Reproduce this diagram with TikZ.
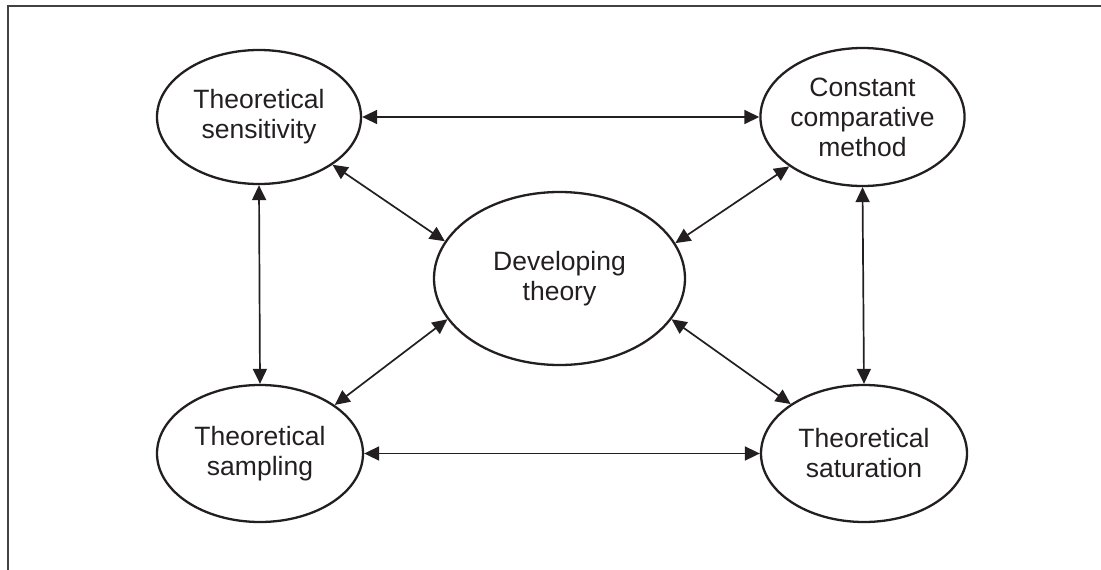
\documentclass[tikz,border=0pt]{standalone}
\usepackage{fontspec}
\setmainfont{Liberation Sans}
\usetikzlibrary{shapes.geometric,arrows.meta}
\definecolor{ink}{HTML}{231F20}
\begin{document}
\begin{tikzpicture}[x=1pt,y=-1pt,
  concept/.style={ellipse,draw=ink,line width=2.3pt,inner sep=0pt,
    text=ink,align=center,font=\fontsize{26.5}{30}\selectfont},
  link/.style={draw=ink,line width=1.7pt,
    {Triangle[length=15pt,width=14pt]}-{Triangle[length=15pt,width=14pt]}}]
  \useasboundingbox (0,0) rectangle (1101,570);
  % open frame (top and left edges)
  \draw[ink!85,line width=2.2pt] (8,570) -- (8,6) -- (1101,6);

  \node[concept,minimum width=204pt,minimum height=134pt] (sens) at (259,117) {Theoretical\\sensitivity};
  \node[concept,minimum width=203pt,minimum height=138pt] (ccm) at (862.5,117) {Constant\\comparative\\method};
  \node[concept,minimum width=251pt,minimum height=173pt] (dev) at (559.5,278.5) {Developing\\theory};
  \node[concept,minimum width=206pt,minimum height=137pt] (samp) at (260,453.5) {Theoretical\\sampling};
  \node[concept,minimum width=206pt,minimum height=137pt] (sat) at (864,453.5) {Theoretical\\saturation};

  \draw[link] (sens.east) -- (ccm.west);
  \draw[link] (samp.east) -- (sat.west);
  \draw[link] (sens.south) -- (samp.north);
  \draw[link] (ccm.south) -- (sat.north);
  \draw[link] (sens.-33) -- (dev.162.8);
  \draw[link] (ccm.214.6) -- (dev.17);
  \draw[link] (samp.33.8) -- (dev.200.4);
  \draw[link] (sat.146.2) -- (dev.-20.3);
\end{tikzpicture}
\end{document}
